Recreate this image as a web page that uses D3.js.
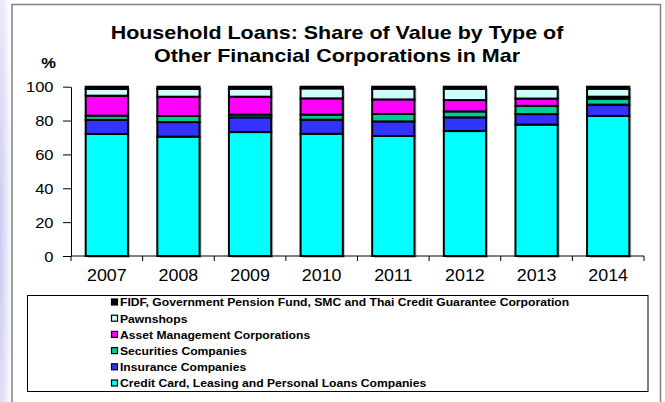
<!DOCTYPE html>
<html><head><meta charset="utf-8">
<script src="https://cdn.jsdelivr.net/npm/d3@7"></script>
<style>
html,body{margin:0;padding:0;background:#fff;}
svg{display:block;font-family:Arial,"Liberation Sans",sans-serif;}
</style></head>
<body>
<svg id="c" width="665" height="402"></svg>
<script>
const years = ["2007","2008","2009","2010","2011","2012","2013","2014"];
const creditCard  = [72.1, 70.5, 73.2, 72.2, 70.9, 73.8, 77.6, 82.7];
const insurance   = [ 8.3,  8.6,  8.7,  8.3,  8.6,  8.1,  6.2,  6.7];
const securities  = [ 2.5,  3.6,  1.6,  3.0,  4.4,  3.5,  4.9,  3.5];
const assetMgmt   = [11.8, 11.4, 10.6,  9.6,  8.6,  6.7,  4.3,  1.2];
const pawnshops   = [ 4.0,  4.6,  4.7,  5.9,  6.3,  6.7,  5.8,  4.7];
const fidf        = [ 1.3,  1.3,  1.2,  1.0,  1.2,  1.2,  1.2,  1.2];
const seriesNames = [
  "Credit Card, Leasing and Personal Loans Companies",
  "Insurance Companies",
  "Securities Companies",
  "Asset Management Corporations",
  "Pawnshops",
  "FIDF, Government Pension Fund, SMC and Thai Credit Guarantee Corporation"
];
const seriesColors = ["#00FFFF","#3333FF","#00CC99","#FF00FF","#CCFFFF","#000000"];
const yTicks = [0,20,40,60,80,100];
const titleLines = ["Household Loans: Share of Value by Type of","Other Financial Corporations in Mar"];

const seriesValues = [creditCard, insurance, securities, assetMgmt, pawnshops, fidf];
const rows = years.map((y,i)=>{const r={year:y}; seriesNames.forEach((n,k)=>r[n]=seriesValues[k][i]); return r;});

const SX = 1.18; // horizontal stretch of the original picture's text
const svg = d3.select("#c");

// left watermark
const defs = svg.append("defs");
const g1 = defs.append("radialGradient").attr("id","wm").attr("cx","0%").attr("cy","60%").attr("r","100%");
g1.append("stop").attr("offset","0%").attr("stop-color","#c8c8f0");
g1.append("stop").attr("offset","100%").attr("stop-color","#ffffff");
svg.append("rect").attr("x",0).attr("y",0).attr("width",12).attr("height",402).attr("fill","url(#wm)");

// outer frame
svg.append("rect").attr("x",12).attr("y",4.5).attr("width",648.5).attr("height",420)
  .attr("fill","#fff").attr("stroke","#808080").attr("stroke-width",1.5);

// title
svg.append("g").selectAll("text").data(titleLines).join("text")
  .attr("transform",(d,i)=>`translate(337,${39+i*23}) scale(${SX},1)`).attr("text-anchor","middle")
  .attr("font-size",18.2).attr("font-weight","bold").text(d=>d);

svg.append("text").attr("transform",`translate(48.5,68) scale(${SX},1)`).attr("text-anchor","middle")
  .attr("font-size",14).attr("font-weight","bold").text("%");

const x = d3.scaleBand().domain(years).range([71,644]).paddingInner(0.41).paddingOuter(0.205);
const y = d3.scaleLinear().domain([0,100]).range([256,86.7]);

const stack = d3.stack().keys(seriesNames)(rows);

// shadows
svg.append("g").selectAll("rect").data(rows).join("rect")
  .attr("x",d=>x(d.year)+2).attr("y",y(100)+2).attr("width",x.bandwidth()).attr("height",y(0)-y(100))
  .attr("fill","#c0c0c0");

const gBars = svg.append("g");
stack.forEach((s,k)=>{
  gBars.append("g").selectAll("rect").data(s).join("rect")
    .attr("x",d=>x(d.data.year)).attr("y",d=>y(d[1]))
    .attr("width",x.bandwidth()).attr("height",d=>y(d[0])-y(d[1]))
    .attr("fill",seriesColors[k]).attr("stroke","#000").attr("stroke-width",2);
});

// y axis
const yAxis = d3.axisLeft(y).tickValues(yTicks).tickSize(8).tickSizeOuter(0).tickFormat(d3.format("d"));
const ga = svg.append("g").attr("transform","translate(71,0)").call(yAxis);
ga.select(".domain").attr("stroke","#000").attr("stroke-width",1);
ga.selectAll(".tick line").attr("stroke","#000");
ga.selectAll(".tick text").attr("font-size",14).attr("font-family","Arial, Liberation Sans, sans-serif")
  .attr("fill","#000").attr("x",0).attr("dy",null).attr("dominant-baseline",null)
  .attr("transform",`translate(-17.5,5) scale(${SX},1)`);

// x axis
const gx = svg.append("g").attr("transform","translate(0,256)");
gx.append("line").attr("x1",71).attr("x2",644).attr("stroke","#000");
const bounds = years.map(d=>x(d)-x.step()*x.paddingInner()/2).concat([644]);
gx.selectAll("line.t").data(bounds).join("line").attr("class","t")
  .attr("x1",d=>d).attr("x2",d=>d).attr("y1",0).attr("y2",5).attr("stroke","#000");
gx.selectAll("text").data(years).join("text")
  .attr("transform",d=>`translate(${x(d)+x.bandwidth()/2},24.7) scale(${SX*0.97},1)`).attr("text-anchor","middle")
  .attr("font-size",15.6).text(d=>d);

// legend
svg.append("rect").attr("x",27.5).attr("y",295.5).attr("width",620.5).attr("height",96)
  .attr("fill","#fff").attr("stroke","#000").attr("stroke-width",1);
const legOrder = seriesNames.map((n,i)=>({n,c:seriesColors[i]})).reverse();
const lg = svg.append("g").selectAll("g").data(legOrder).join("g")
  .attr("transform",(d,i)=>`translate(111,${302.5+i*16.2})`);
lg.append("rect").attr("x",0.5).attr("y",-3.5).attr("width",6).attr("height",6)
  .attr("fill",d=>d.c).attr("stroke","#000").attr("stroke-width",1.2);
lg.append("text").attr("transform",`translate(9,3.9) scale(${SX},1)`).attr("font-size",10.3).attr("font-weight","bold").text(d=>d.n);
</script>
</body></html>
